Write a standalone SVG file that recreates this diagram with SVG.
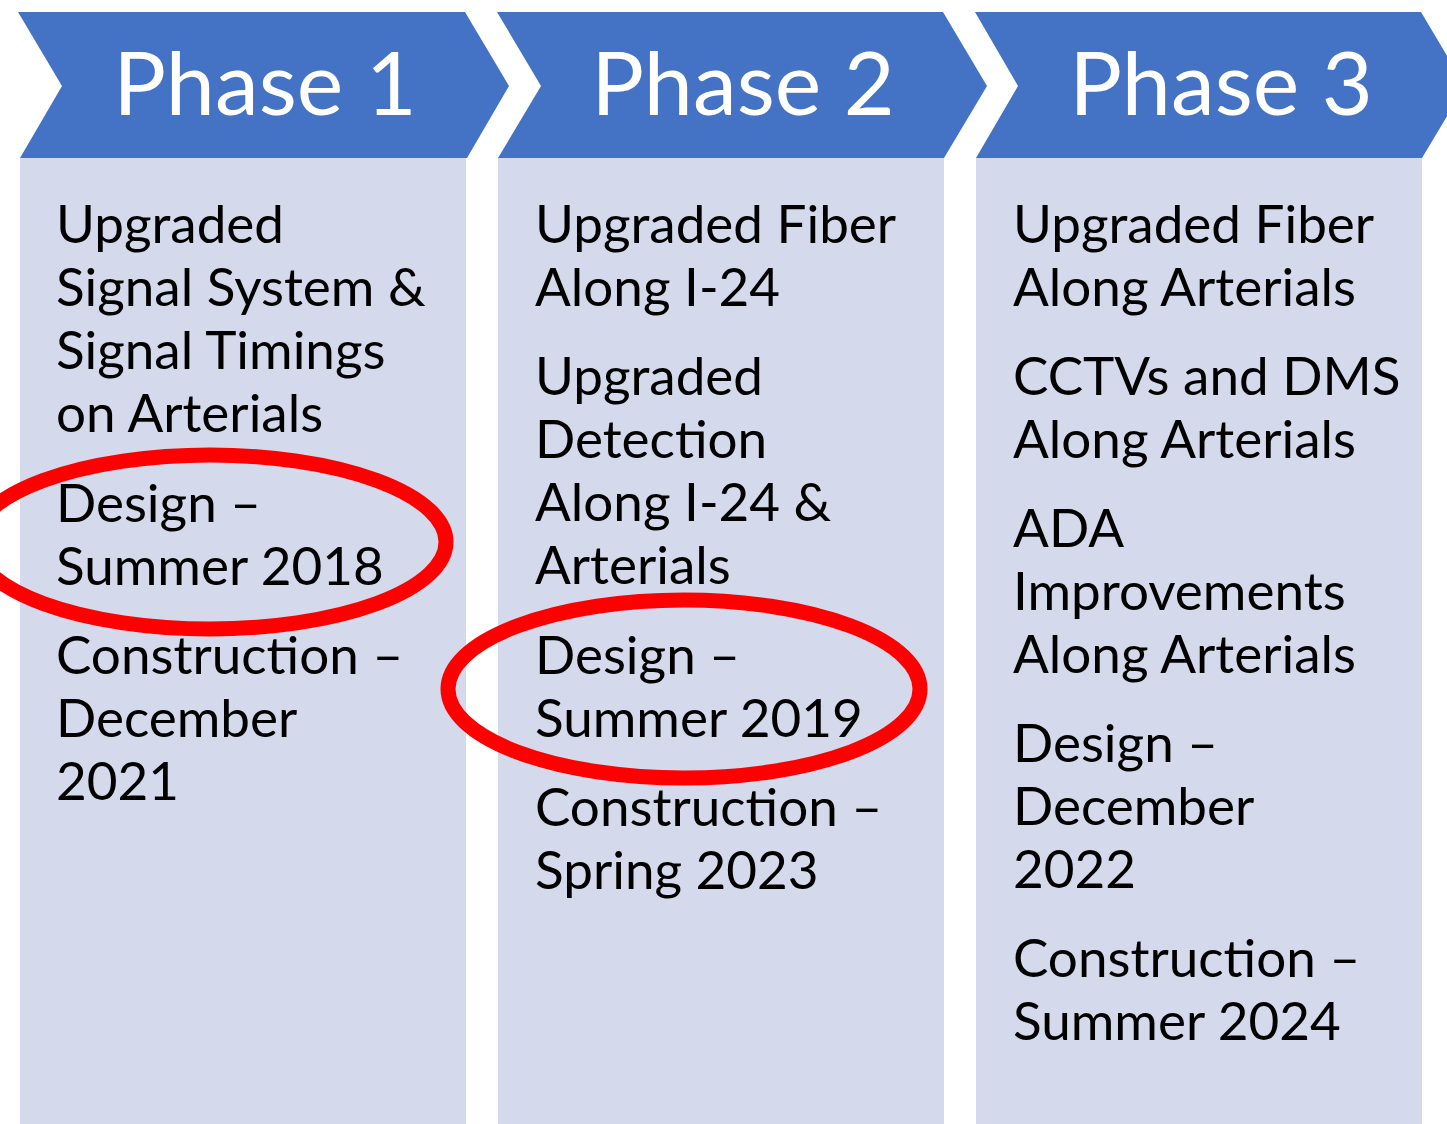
<svg xmlns="http://www.w3.org/2000/svg" width="1447" height="1124" viewBox="0 0 1447 1124">
<style>
.chev{fill:#4472C4;}
.panel{fill:#D4DAEC;}
.ph{font-family:Lato,"Open Sans",sans-serif;font-size:88px;fill:#FFFFFF;text-anchor:middle;}
.bd{font-family:Lato,"Open Sans",sans-serif;font-size:53px;fill:#000000;}
.ring{fill:none;stroke:#FF0000;stroke-width:15;}
</style>
<rect width="1447" height="1124" fill="#FFFFFF"/>
<g id="phase1">
<rect class="panel" x="20" y="158" width="446" height="966"/>
<polygon class="chev" points="18,12 465,12 509,86 467,158 20,158 62,86"/>
<text class="ph" x="265" y="115">Phase 1</text>
<text class="bd" x="56"><tspan x="56" y="243">Upgraded</tspan><tspan x="56" y="306">Signal System &amp;</tspan><tspan x="56" y="369">Signal Timings</tspan><tspan x="56" y="432">on Arterials</tspan><tspan x="56" y="522">Design –</tspan><tspan x="56" y="585">Summer 2018</tspan><tspan x="56" y="674">Construction –</tspan><tspan x="56" y="737">December</tspan><tspan x="56" y="800">2021</tspan></text>
</g>
<g id="phase2">
<rect class="panel" x="498" y="158" width="446" height="966"/>
<polygon class="chev" points="497,12 943,12 987,86 944,158 498,158 541,86"/>
<text class="ph" x="743" y="115">Phase 2</text>
<text class="bd" x="535"><tspan x="535" y="243">Upgraded Fiber</tspan><tspan x="535" y="306">Along I-24</tspan><tspan x="535" y="395">Upgraded</tspan><tspan x="535" y="458">Detection</tspan><tspan x="535" y="521">Along I-24 &amp;</tspan><tspan x="535" y="584">Arterials</tspan><tspan x="535" y="674">Design –</tspan><tspan x="535" y="737">Summer 2019</tspan><tspan x="535" y="826">Construction –</tspan><tspan x="535" y="889">Spring 2023</tspan></text>
</g>
<g id="phase3">
<rect class="panel" x="976" y="158" width="446" height="966"/>
<polygon class="chev" points="975,12 1421,12 1465,86 1422,158 976,158 1018,86"/>
<text class="ph" x="1221" y="115">Phase 3</text>
<text class="bd" x="1013"><tspan x="1013" y="243">Upgraded Fiber</tspan><tspan x="1013" y="306">Along Arterials</tspan><tspan x="1013" y="395">CCTVs and DMS</tspan><tspan x="1013" y="458">Along Arterials</tspan><tspan x="1013" y="547">ADA</tspan><tspan x="1013" y="610">Improvements</tspan><tspan x="1013" y="673">Along Arterials</tspan><tspan x="1013" y="762">Design –</tspan><tspan x="1013" y="825">December</tspan><tspan x="1013" y="888">2022</tspan><tspan x="1013" y="977">Construction –</tspan><tspan x="1013" y="1040">Summer 2024</tspan></text>
</g>
<g id="highlights">
<ellipse id="ring1" class="ring" cx="210" cy="542" rx="236" ry="87"/>
<ellipse id="ring2" class="ring" cx="684" cy="689" rx="236" ry="89"/>
</g>
</svg>
